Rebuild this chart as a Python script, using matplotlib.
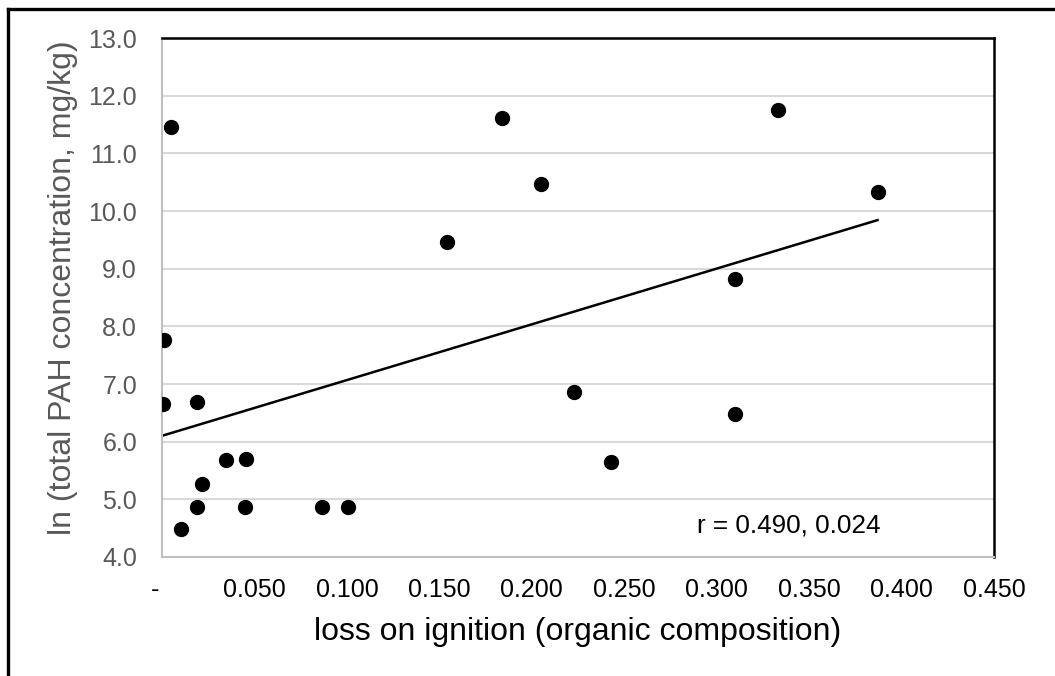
"""Scatter of ln(total PAH) against loss on ignition, with linear trendline."""

import matplotlib
matplotlib.use("Agg")
import matplotlib.pyplot as plt
from matplotlib.lines import Line2D
import numpy as np

plt.rcParams["font.family"] = ["Liberation Sans", "DejaVu Sans"]

# data
loi = [0.005, 0.001, 0.0005, 0.019, 0.0346, 0.0454, 0.0216, 0.019, 0.045,
       0.0865, 0.1006, 0.0103, 0.154, 0.184, 0.205, 0.333, 0.387, 0.310,
       0.223, 0.243, 0.310]
ln_pah = [11.45, 7.77, 6.66, 6.69, 5.68, 5.70, 5.26, 4.87, 4.87,
          4.87, 4.87, 4.48, 9.46, 11.61, 10.46, 11.76, 10.33, 8.82,
          6.86, 5.64, 6.48]

x_ticks = [0.0, 0.05, 0.10, 0.15, 0.20, 0.25, 0.30, 0.35, 0.40, 0.45]
# accounting-style zero, padded like the spreadsheet format
x_tick_labels = ["-  ", "0.050", "0.100", "0.150", "0.200", "0.250",
                 "0.300", "0.350", "0.400", "0.450"]
y_ticks = [4.0, 5.0, 6.0, 7.0, 8.0, 9.0, 10.0, 11.0, 12.0, 13.0]
y_tick_labels = [f"{v:.1f}" for v in y_ticks]
annotation = "r = 0.490, 0.024"


def main():
    fig = plt.figure(figsize=(10.55, 6.76), dpi=100)
    ax = fig.add_axes([162 / 1055, 1 - 557 / 676, (994 - 162) / 1055, (557 - 38) / 676])

    x = np.array(loi)
    y = np.array(ln_pah)
    ax.plot(x, y, "o", color="black", markersize=10, zorder=3)

    # least squares trendline over the data range
    slope, icpt = np.polyfit(x, y, 1)
    xs = np.array([x.min(), x.max()])
    ax.plot(xs, slope * xs + icpt, color="black", lw=1.8, zorder=2)

    ax.set_xlim(0, 0.45)
    ax.set_ylim(4, 13)
    ax.set_xticks(x_ticks)
    ax.set_xticklabels(x_tick_labels)
    ax.set_yticks(y_ticks)
    ax.set_yticklabels(y_tick_labels)
    ax.tick_params(axis="both", length=0)
    ax.tick_params(axis="x", labelsize=18, colors="black", pad=15)
    ax.tick_params(axis="y", labelsize=18, labelcolor="#595959", pad=18)

    ax.grid(axis="y", color="#D9D9D9", lw=1.5)
    ax.set_axisbelow(True)
    for side in ("left", "bottom"):
        ax.spines[side].set_color("#BFBFBF")
        ax.spines[side].set_linewidth(1.5)
    for side in ("top", "right"):
        ax.spines[side].set_color("black")
        ax.spines[side].set_linewidth(1.8)

    fig.text(578 / 1055, 1 - 632 / 676, "loss on ignition (organic composition)",
             fontsize=23, color="black", ha="center", va="center")
    fig.text(63 / 1055, 1 - 288 / 676, "ln (total PAH concentration, mg/kg)",
             fontsize=23, color="#595959", ha="center", va="center", rotation=90)
    fig.text(697 / 1055, 1 - 526 / 676, annotation, fontsize=18.8,
             color="black", ha="left", va="center")

    # outer chart border (only left and top edges are in frame)
    fig.add_artist(Line2D([8 / 1055, 8 / 1055], [0, 1 - 9 / 676],
                          transform=fig.transFigure, color="black", lw=2.4))
    fig.add_artist(Line2D([8 / 1055, 1], [1 - 9 / 676, 1 - 9 / 676],
                          transform=fig.transFigure, color="black", lw=2.4))

    fig.savefig("out.png", dpi=100)
    plt.close(fig)


if __name__ == "__main__":
    main()
